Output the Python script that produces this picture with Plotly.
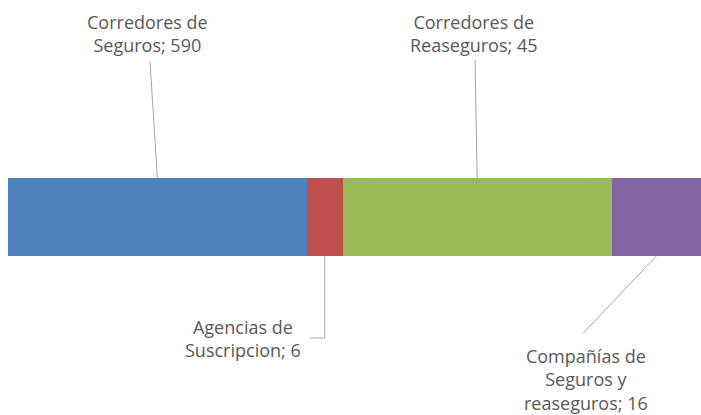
import plotly.graph_objects as go

# Data
categories = ["Corredores de Seguros", "Agencias de Suscripcion", "Corredores de Reaseguros", "Compañías de Seguros y reaseguros"]
label_lines = ["Corredores de<br>Seguros", "Agencias de<br>Suscripcion", "Corredores de<br>Reaseguros", "Compañías de<br>Seguros y<br>reaseguros"]
counts = [590, 6, 45, 16]
# share of the bar length occupied by each segment (%)
segment_share = [43.1, 5.2, 38.8, 12.9]
colors = ["#4F81BD", "#C0504D", "#9BBB59", "#8064A2"]

fig = go.Figure()
for cat, share, col in zip(categories, segment_share, colors):
    fig.add_trace(go.Bar(
        x=[share], y=[0], orientation="h", name=cat,
        marker=dict(color=col, line=dict(width=0)),
        width=1, hoverinfo="skip",
    ))

# segment midpoints
starts = []
acc = 0
for s in segment_share:
    starts.append(acc)
    acc += s
mids = [st + s / 2 for st, s in zip(starts, segment_share)]

line_col = "#A6A6A6"
font = dict(family="Open Sans, Liberation Sans, sans-serif", size=18, color="#595959")

# label placement (x in data units, y in bar-axis units)
label_pos = [
    (20.2, 2.35),
    (33.9, -1.56),
    (67.2, 2.35),
    (83.4, -2.08),
]
for i, (txt, n) in enumerate(zip(label_lines, counts)):
    lx, ly = label_pos[i]
    fig.add_annotation(x=lx, y=ly, xref="x", yref="y", text=f"{txt}; {n}",
                       showarrow=False, font=font, align="center")

# leader lines
shapes = []
shapes.append(dict(type="line", xref="x", yref="y", x0=mids[0], y0=0.5, x1=20.5, y1=1.99))
shapes.append(dict(type="line", xref="x", yref="y", x0=mids[2], y0=0.5, x1=67.4, y1=2.01))
shapes.append(dict(type="path", xref="x", yref="y",
                   path=f"M {mids[1]} -0.5 L {mids[1]} -1.551 L 43.6 -1.551"))
shapes.append(dict(type="line", xref="x", yref="y", x0=mids[3], y0=-0.5, x1=83.0, y1=-1.49))
for s in shapes:
    s["line"] = dict(color=line_col, width=1)
fig.update_layout(shapes=shapes)

fig.update_layout(
    width=701, height=415,
    margin=dict(l=0, r=0, t=0, b=0),
    barmode="stack", showlegend=False,
    plot_bgcolor="white", paper_bgcolor="white",
    xaxis=dict(range=[0, 100], domain=[8 / 701, 1], visible=False, fixedrange=True),
    yaxis=dict(range=[-2.538, 2.782], visible=False, fixedrange=True),
)

fig.write_html("out.html", config={"displayModeBar": False},
               post_script="document.body.style.margin='0';document.body.style.overflow='hidden';")
